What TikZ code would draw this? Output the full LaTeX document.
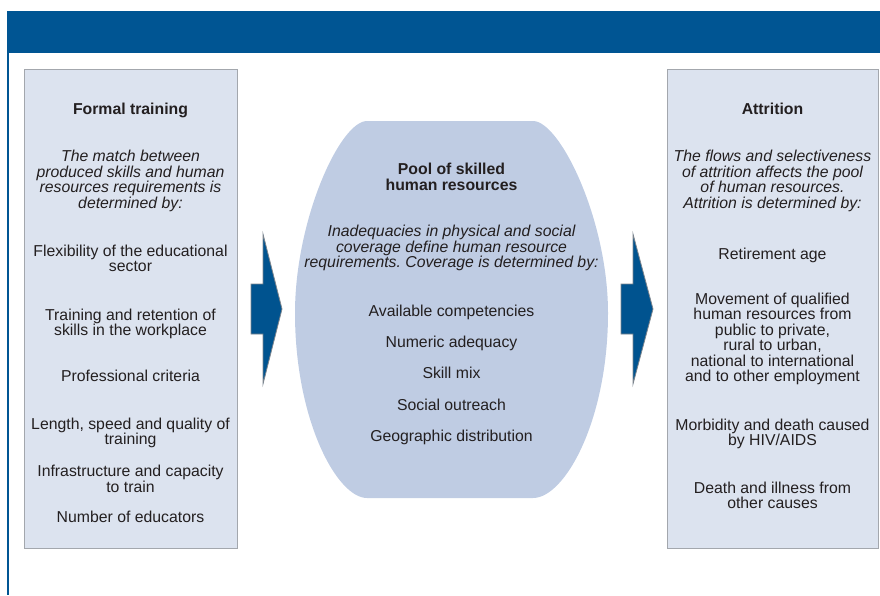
\documentclass[tikz,border=0pt]{standalone}
\usepackage{fontspec}
\setmainfont{Liberation Sans}
\frenchspacing
\definecolor{bandblue}{HTML}{005593}
\definecolor{arrowblue}{HTML}{00538F}
\definecolor{arrowline}{HTML}{7E858D}
\definecolor{boxfill}{HTML}{DCE3EF}
\definecolor{boxline}{HTML}{A3A7AD}
\definecolor{poolfill}{HTML}{BFCCE3}
\definecolor{txtcol}{HTML}{231F20}
\begin{document}
\begin{tikzpicture}[x=1pt,y=-1pt,
  txt/.style={font=\fontsize{15.8}{15.3}\selectfont, text=txtcol, inner sep=0pt, anchor=base},
  ttl/.style={txt, font=\fontsize{15.8}{15.3}\selectfont\bfseries},
  itl/.style={txt, font=\fontsize{15.8}{15.3}\selectfont\itshape},
  sidebox/.style={draw=boxline, fill=boxfill, line width=1pt, anchor=north west, inner sep=0pt},
  blockarrow/.style={fill=arrowblue, draw=arrowline, line width=0.8pt, line join=miter}]
\useasboundingbox (0,0) rectangle (880,595);
% header band and left rule
\fill[bandblue] (7,11) rectangle (880,53);
\fill[bandblue] (7,53) rectangle (9,595);
% side boxes
\node[sidebox, minimum width=213pt, minimum height=479pt] (ftbox) at (24,69) {};
\node[sidebox, minimum width=211pt, minimum height=479pt] (atbox) at (667,69) {};
% pool shape
\fill[poolfill] (367,121) -- (533,121) .. controls (560,121) and (608,220) .. (608,313)
  .. controls (608,420) and (565,498) .. (533,498) -- (367,498)
  .. controls (337,498) and (295,420) .. (295,313)
  .. controls (295,220) and (340,121) .. (367,121) -- cycle;
\coordinate (pool) at (451.5,309);
% block arrows
\draw[blockarrow] (251,284) -- (263,284) -- (263,234) -- (282,309) -- (263,384) -- (263,334) -- (251,334) -- cycle;
\draw[blockarrow] (621,284) -- (633,284) -- (633,234) -- (653,309) -- (633,384) -- (633,334) -- (621,334) -- cycle;
% left box text
\node[ttl] (l0) at (130.5,114) {Formal training};
\node[itl] (l1) at (130.5,161.7) {The match between};
\node[itl] (l2) at (130.5,177.2) {produced skills and human};
\node[itl] (l3) at (130.5,192.6) {resources requirements is};
\node[itl] (l4) at (130.5,208) {determined by:};
\node[txt] (l5) at (130.5,256) {Flexibility of the educational};
\node[txt] (l6) at (130.5,271.5) {sector};
\node[txt] (l7) at (130.5,320) {Training and retention of};
\node[txt] (l8) at (130.5,335.3) {skills in the workplace};
\node[txt] (l9) at (130.5,381.7) {Professional criteria};
\node[txt] (l10) at (130.5,429) {Length, speed and quality of};
\node[txt] (l11) at (130.5,444.3) {training};
\node[txt] (l12) at (130.5,476.7) {Infrastructure and capacity};
\node[txt] (l13) at (130.5,492.2) {to train};
\node[txt] (l14) at (130.5,522.3) {Number of educators};
% middle text
\node[ttl] (m0) at (451.5,174) {Pool of skilled};
\node[ttl] (m1) at (451.5,190) {human resources};
\node[itl] (m2) at (451.5,236.7) {Inadequacies in physical and social};
\node[itl] (m3) at (451.5,252.2) {coverage define human resource};
\node[itl] (m4) at (451.5,267.7) {requirements. Coverage is determined by:};
\node[txt] (m5) at (451.5,316) {Available competencies};
\node[txt] (m6) at (451.5,347.3) {Numeric adequacy};
\node[txt] (m7) at (451.5,378.7) {Skill mix};
\node[txt] (m8) at (451.5,410) {Social outreach};
\node[txt] (m9) at (451.5,441.7) {Geographic distribution};
% right box text
\node[ttl] (r0) at (772.5,114) {Attrition};
\node[itl] (r1) at (772.5,161.7) {The flows and selectiveness};
\node[itl] (r2) at (772.5,177.2) {of attrition affects the pool};
\node[itl] (r3) at (772.5,192.6) {of human resources.};
\node[itl] (r4) at (772.5,208) {Attrition is determined by:};
\node[txt] (r5) at (772.5,259) {Retirement age};
\node[txt] (r6) at (772.5,304) {Movement of qualified};
\node[txt] (r7) at (772.5,319.5) {human resources from};
\node[txt] (r8) at (772.5,335) {public to private,};
\node[txt] (r9) at (772.5,350.5) {rural to urban,};
\node[txt] (r10) at (772.5,366) {national to international};
\node[txt] (r11) at (772.5,381.5) {and to other employment};
\node[txt] (r12) at (772.5,430) {Morbidity and death caused};
\node[txt] (r13) at (772.5,445.5) {by HIV/AIDS};
\node[txt] (r14) at (772.5,493) {Death and illness from};
\node[txt] (r15) at (772.5,508.5) {other causes};
\end{tikzpicture}
\end{document}
